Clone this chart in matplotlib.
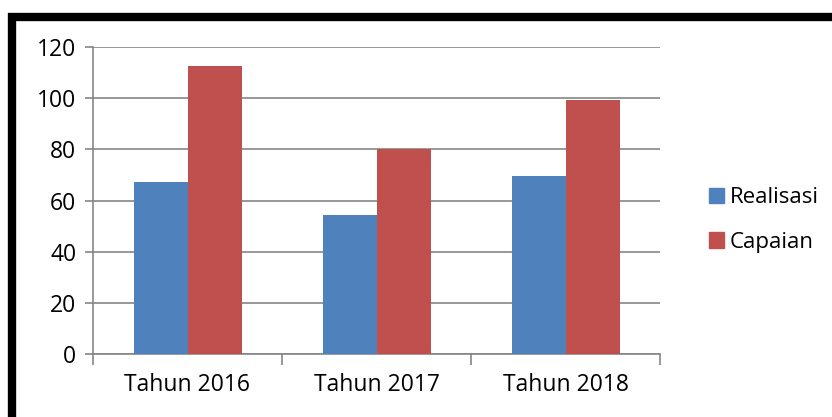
import matplotlib
matplotlib.use("Agg")
import matplotlib.pyplot as plt
from matplotlib.patches import Rectangle, Patch
import numpy as np

categories = ["Tahun 2016", "Tahun 2017", "Tahun 2018"]
realisasi = [67.4, 54.2, 69.4]
capaian = [112.6, 80.0, 99.3]
series_names = ["Realisasi", "Capaian"]
yticks = [0, 20, 40, 60, 80, 100, 120]

plt.rcParams['font.family'] = ['Open Sans', 'DejaVu Sans']
W, H = 832, 417
fig = plt.figure(figsize=(W/100, H/100), dpi=100)

# plot area in pixels
left, right, top, bottom = 93, 660, 47, 354
ax = fig.add_axes([left/W, 1-bottom/H, (right-left)/W, (bottom-top)/H])

blue = "#4F81BD"
red = "#C0504D"
grid = "#868686"

x = np.arange(len(categories))
bw = 1/3.5
ax.bar(x - bw/2, realisasi, bw, color=blue, zorder=3)
ax.bar(x + bw/2, capaian, bw, color=red, zorder=3)

ax.set_xlim(-0.5, len(categories)-0.5)
ax.set_ylim(0, 120)
ax.set_yticks(yticks)
ax.set_yticklabels([str(v) for v in yticks], fontsize=16.5)
ax.yaxis.grid(True, color=grid, linewidth=1.2, zorder=0)
ax.set_axisbelow(True)

ax.set_xticks(np.arange(-0.5, len(categories), 1.0))
ax.set_xticklabels([])
ax.set_xticks(x, minor=True)
ax.set_xticklabels(categories, minor=True, fontsize=16.5)
ax.tick_params(axis='x', which='minor', length=0, pad=14)
ax.tick_params(axis='x', which='major', length=8, color=grid, width=1.2)
ax.tick_params(axis='y', length=6, color=grid, width=1.2, pad=6)

for s in ['top', 'right']:
    ax.spines[s].set_visible(False)
for s in ['left', 'bottom']:
    ax.spines[s].set_color(grid)
    ax.spines[s].set_linewidth(1.2)

handles = [Patch(color=blue), Patch(color=red)]
fig.legend(handles, series_names, loc='center left',
           bbox_to_anchor=(700/W, 1-220/H), frameon=False, fontsize=16,
           handlelength=0.7, handleheight=0.7, handletextpad=0.25,
           labelspacing=1.05, borderaxespad=0)

# thick black border around the chart (extends past right/bottom edges)
fig.patches.append(Rectangle((12/W, -0.2), 1.0, 1-17/H+0.2,
                             transform=fig.transFigure, fill=False,
                             edgecolor='black', linewidth=6))

fig.savefig("out.png", dpi=100)
